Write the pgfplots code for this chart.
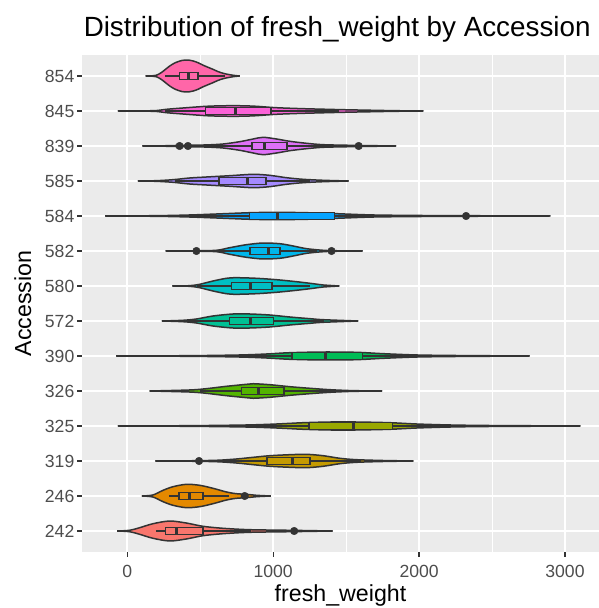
\documentclass[border=0pt]{standalone}
\usepackage{pgfplots}
\pgfplotsset{compat=1.18}
\usepackage{pgfplotstable}
\usepgfplotslibrary{fillbetween,statistics}
\usepackage{fontspec}
\setmainfont{Liberation Sans}
\definecolor{dk}{HTML}{333333}
\definecolor{bgg}{HTML}{EBEBEB}
\definecolor{tk}{HTML}{4D4D4D}
\definecolor{cA}{HTML}{F8766D}% 242
\definecolor{cB}{HTML}{E38900}% 246
\definecolor{cC}{HTML}{C49A00}% 319
\definecolor{cD}{HTML}{99A800}% 325
\definecolor{cE}{HTML}{53B400}% 326
\definecolor{cF}{HTML}{00BC56}% 390
\definecolor{cG}{HTML}{00C094}% 572
\definecolor{cH}{HTML}{00BFC4}% 580
\definecolor{cI}{HTML}{00B6EB}% 582
\definecolor{cJ}{HTML}{06A4FF}% 584
\definecolor{cK}{HTML}{A58AFF}% 585
\definecolor{cL}{HTML}{DF70F8}% 839
\definecolor{cM}{HTML}{FB61D7}% 845
\definecolor{cN}{HTML}{FF66A8}% 854

% violin outlines: v = fresh_weight, w = half width (category units)
\pgfplotstableread{
v w
-69 0
16 0.02
85 0.094
176 0.208
291 0.285
405 0.228
519 0.134
657 0.077
840 0.037
1114 0.02
1407 0
}\VA
\pgfplotstableread{
v w
101 0
176 0.029
245 0.162
313 0.265
405 0.334
497 0.305
588 0.22
680 0.114
748 0.066
817 0.048
885 0.02
984 0
}\VB
\pgfplotstableread{
v w
192 0
400 0.005
611 0.02
748 0.057
863 0.105
977 0.151
1114 0.18
1229 0.191
1343 0.151
1457 0.077
1572 0.037
1755 0.014
1961 0
}\VC
\pgfplotstableread{
v w
-64 0
428 0.009
817 0.029
1023 0.057
1206 0.094
1389 0.114
1572 0.114
1801 0.094
1984 0.057
2212 0.029
2487 0.014
3105 0
}\VD
\pgfplotstableread{
v w
153 0
428 0.029
542 0.066
680 0.134
817 0.191
863 0.208
977 0.18
1114 0.123
1252 0.077
1389 0.037
1550 0.01
1746 0
}\VE
\pgfplotstableread{
v w
-76 0
428 0.009
771 0.029
954 0.057
1114 0.094
1343 0.114
1572 0.105
1755 0.066
1984 0.029
2258 0.014
2757 0
}\VF
\pgfplotstableread{
v w
238 0
382 0.02
474 0.057
588 0.143
725 0.2
840 0.2
977 0.171
1114 0.114
1252 0.066
1343 0.037
1583 0
}\VG
\pgfplotstableread{
v w
309 0
428 0.009
496 0.048
588 0.143
680 0.22
748 0.237
885 0.22
1023 0.18
1160 0.123
1274 0.066
1343 0.029
1453 0
}\VH
\pgfplotstableread{
v w
263 0
450 0.005
611 0.02
702 0.094
817 0.18
931 0.228
1046 0.208
1137 0.143
1229 0.066
1343 0.02
1450 0.006
1613 0
}\VI
\pgfplotstableread{
v w
-151 0
199 0.009
428 0.029
611 0.057
840 0.094
1023 0.105
1229 0.094
1435 0.066
1686 0.029
2029 0.014
2487 0.006
2899 0
}\VJ
\pgfplotstableread{
v w
73 0
199 0.009
313 0.037
428 0.086
542 0.114
702 0.151
863 0.191
977 0.162
1091 0.094
1206 0.048
1343 0.02
1517 0
}\VK
\pgfplotstableread{
v w
103 0
250 0.006
428 0.025
542 0.03
657 0.057
771 0.123
863 0.2
931 0.248
1023 0.2
1114 0.134
1229 0.077
1343 0.037
1526 0.02
1700 0.008
1842 0
}\VL
\pgfplotstableread{
v w
-64 0
100 0.005
199 0.012
268 0.048
382 0.086
542 0.134
650 0.148
725 0.151
800 0.148
885 0.134
1023 0.094
1206 0.066
1480 0.037
1686 0.02
1850 0.008
2029 0
}\VM
\pgfplotstableread{
v w
126 0
170 0.005
199 0.02
233 0.095
262 0.19
291 0.285
320 0.36
348 0.41
375 0.445
400 0.456
425 0.452
451 0.43
485 0.38
519 0.31
553 0.25
588 0.19
620 0.13
657 0.077
702 0.037
740 0.012
771 0
}\VN

\newcommand{\violin}[3]{%
  \addplot[name path=U#1, draw=dk, line width=1.5pt, smooth] table[x=v, y expr=#1+\thisrow{w}] {#2};
  \addplot[name path=L#1, draw=dk, line width=1.5pt, smooth] table[x=v, y expr=#1-\thisrow{w}] {#2};
  \addplot[fill=#3, draw=none] fill between[of=U#1 and L#1];
}
% pos, colour, lower whisker, q1, median, q3, upper whisker
\newcommand{\bxp}[7]{%
  \addplot[boxplot prepared={draw position=#1, lower whisker=#3, lower quartile=#4,
      median=#5, upper quartile=#6, upper whisker=#7},
    boxplot/box extend=0.2, boxplot/whisker extend=0,
    boxplot/every box/.style={draw=dk, line width=1.5pt},
    boxplot/every whisker/.style={draw=dk, line width=1.5pt},
    boxplot/every median/.style={draw=dk, line width=3pt},
    draw=dk, fill=#2, line width=1.5pt, solid] coordinates {};
}

\begin{document}
\begin{tikzpicture}
\begin{axis}[
  at={(0,0)}, anchor=south west,
  scale only axis, width=517pt, height=497pt,
  set layers,
  xmin=-310, xmax=3233, ymin=0.4, ymax=14.6,
  axis background/.style={fill=bgg},
  axis line style={draw=none},
  grid=both, minor x tick num=1,
  major grid style={white, line width=1.6pt},
  minor grid style={white, line width=0.8pt},
  xtick={0,1000,2000,3000}, xticklabels={0,1000,2000,3000},
  ytick={1,...,14},
  yticklabels={242,246,319,325,326,390,572,580,582,584,585,839,845,854},
  tick pos=left, tick align=outside,
  major tick length=4.5pt, minor tick length=0pt,
  every tick/.style={dk, line width=1.2pt},
  ticklabel style={font=\fontsize{17.6}{20}\selectfont, text=tk},
  xticklabel style={anchor=north, inner sep=0pt, yshift=-9pt},
  yticklabel style={anchor=east, inner sep=0pt, xshift=-3pt},
  every axis title shift=0pt,
  title={Distribution of fresh\_weight by Accession},
  title style={at={(axis description cs:0.003,1.0382)}, anchor=base west, inner sep=0pt,
    font=\fontsize{27.8}{30}\selectfont},
  xlabel={fresh\_weight},
  xlabel style={at={(axis description cs:0.5,-0.1006)}, anchor=base, inner sep=0pt,
    font=\fontsize{23.2}{26}\selectfont},
  ylabel={Accession},
  ylabel style={at={(axis description cs:-0.0986,0.5)}, anchor=base, inner sep=0pt,
    font=\fontsize{23.2}{26}\selectfont},
]
\violin{1}{\VA}{cA}
\bxp{1}{cA}{194}{263}{341}{519}{850}
\addplot[only marks, mark=*, mark size=3.8pt, dk] coordinates {(1144,1)};
\violin{2}{\VB}{cB}
\bxp{2}{cB}{286}{355}{428}{519}{700}
\addplot[only marks, mark=*, mark size=3.8pt, dk] coordinates {(805,2)};
\violin{3}{\VC}{cC}
\bxp{3}{cC}{560}{959}{1130}{1252}{1600}
\addplot[only marks, mark=*, mark size=3.8pt, dk] coordinates {(492,3)};
\violin{4}{\VD}{cD}
\bxp{4}{cD}{500}{1245}{1549}{1817}{2600}
\violin{5}{\VE}{cE}
\bxp{5}{cE}{500}{783}{897}{1073}{1450}
\violin{6}{\VF}{cF}
\bxp{6}{cF}{500}{1130}{1361}{1613}{2200}
\violin{7}{\VG}{cG}
\bxp{7}{cG}{400}{702}{847}{1002}{1350}
\violin{8}{\VH}{cH}
\bxp{8}{cH}{480}{714}{847}{993}{1250}
\violin{9}{\VI}{cI}
\bxp{9}{cI}{560}{840}{966}{1046}{1300}
\addplot[only marks, mark=*, mark size=3.8pt, dk] coordinates {(474,9) (1400,9)};
\violin{10}{\VJ}{cJ}
\bxp{10}{cJ}{150}{837}{1030}{1419}{2100}
\addplot[only marks, mark=*, mark size=3.8pt, dk] coordinates {(2322,10)};
\violin{11}{\VK}{cK}
\bxp{11}{cK}{330}{629}{821}{950}{1250}
\violin{12}{\VL}{cL}
\bxp{12}{cL}{500}{856}{938}{1096}{1440}
\addplot[only marks, mark=*, mark size=3.8pt, dk] coordinates {(359,12) (416,12) (1586,12)};
\violin{13}{\VM}{cM}
\bxp{13}{cM}{260}{538}{741}{984}{1450}
\violin{14}{\VN}{cN}
\bxp{14}{cN}{256}{359}{421}{485}{668}
\end{axis}
\pgfresetboundingbox
\path (-82pt,-56pt) rectangle (517pt,552pt);
\end{tikzpicture}
\end{document}
